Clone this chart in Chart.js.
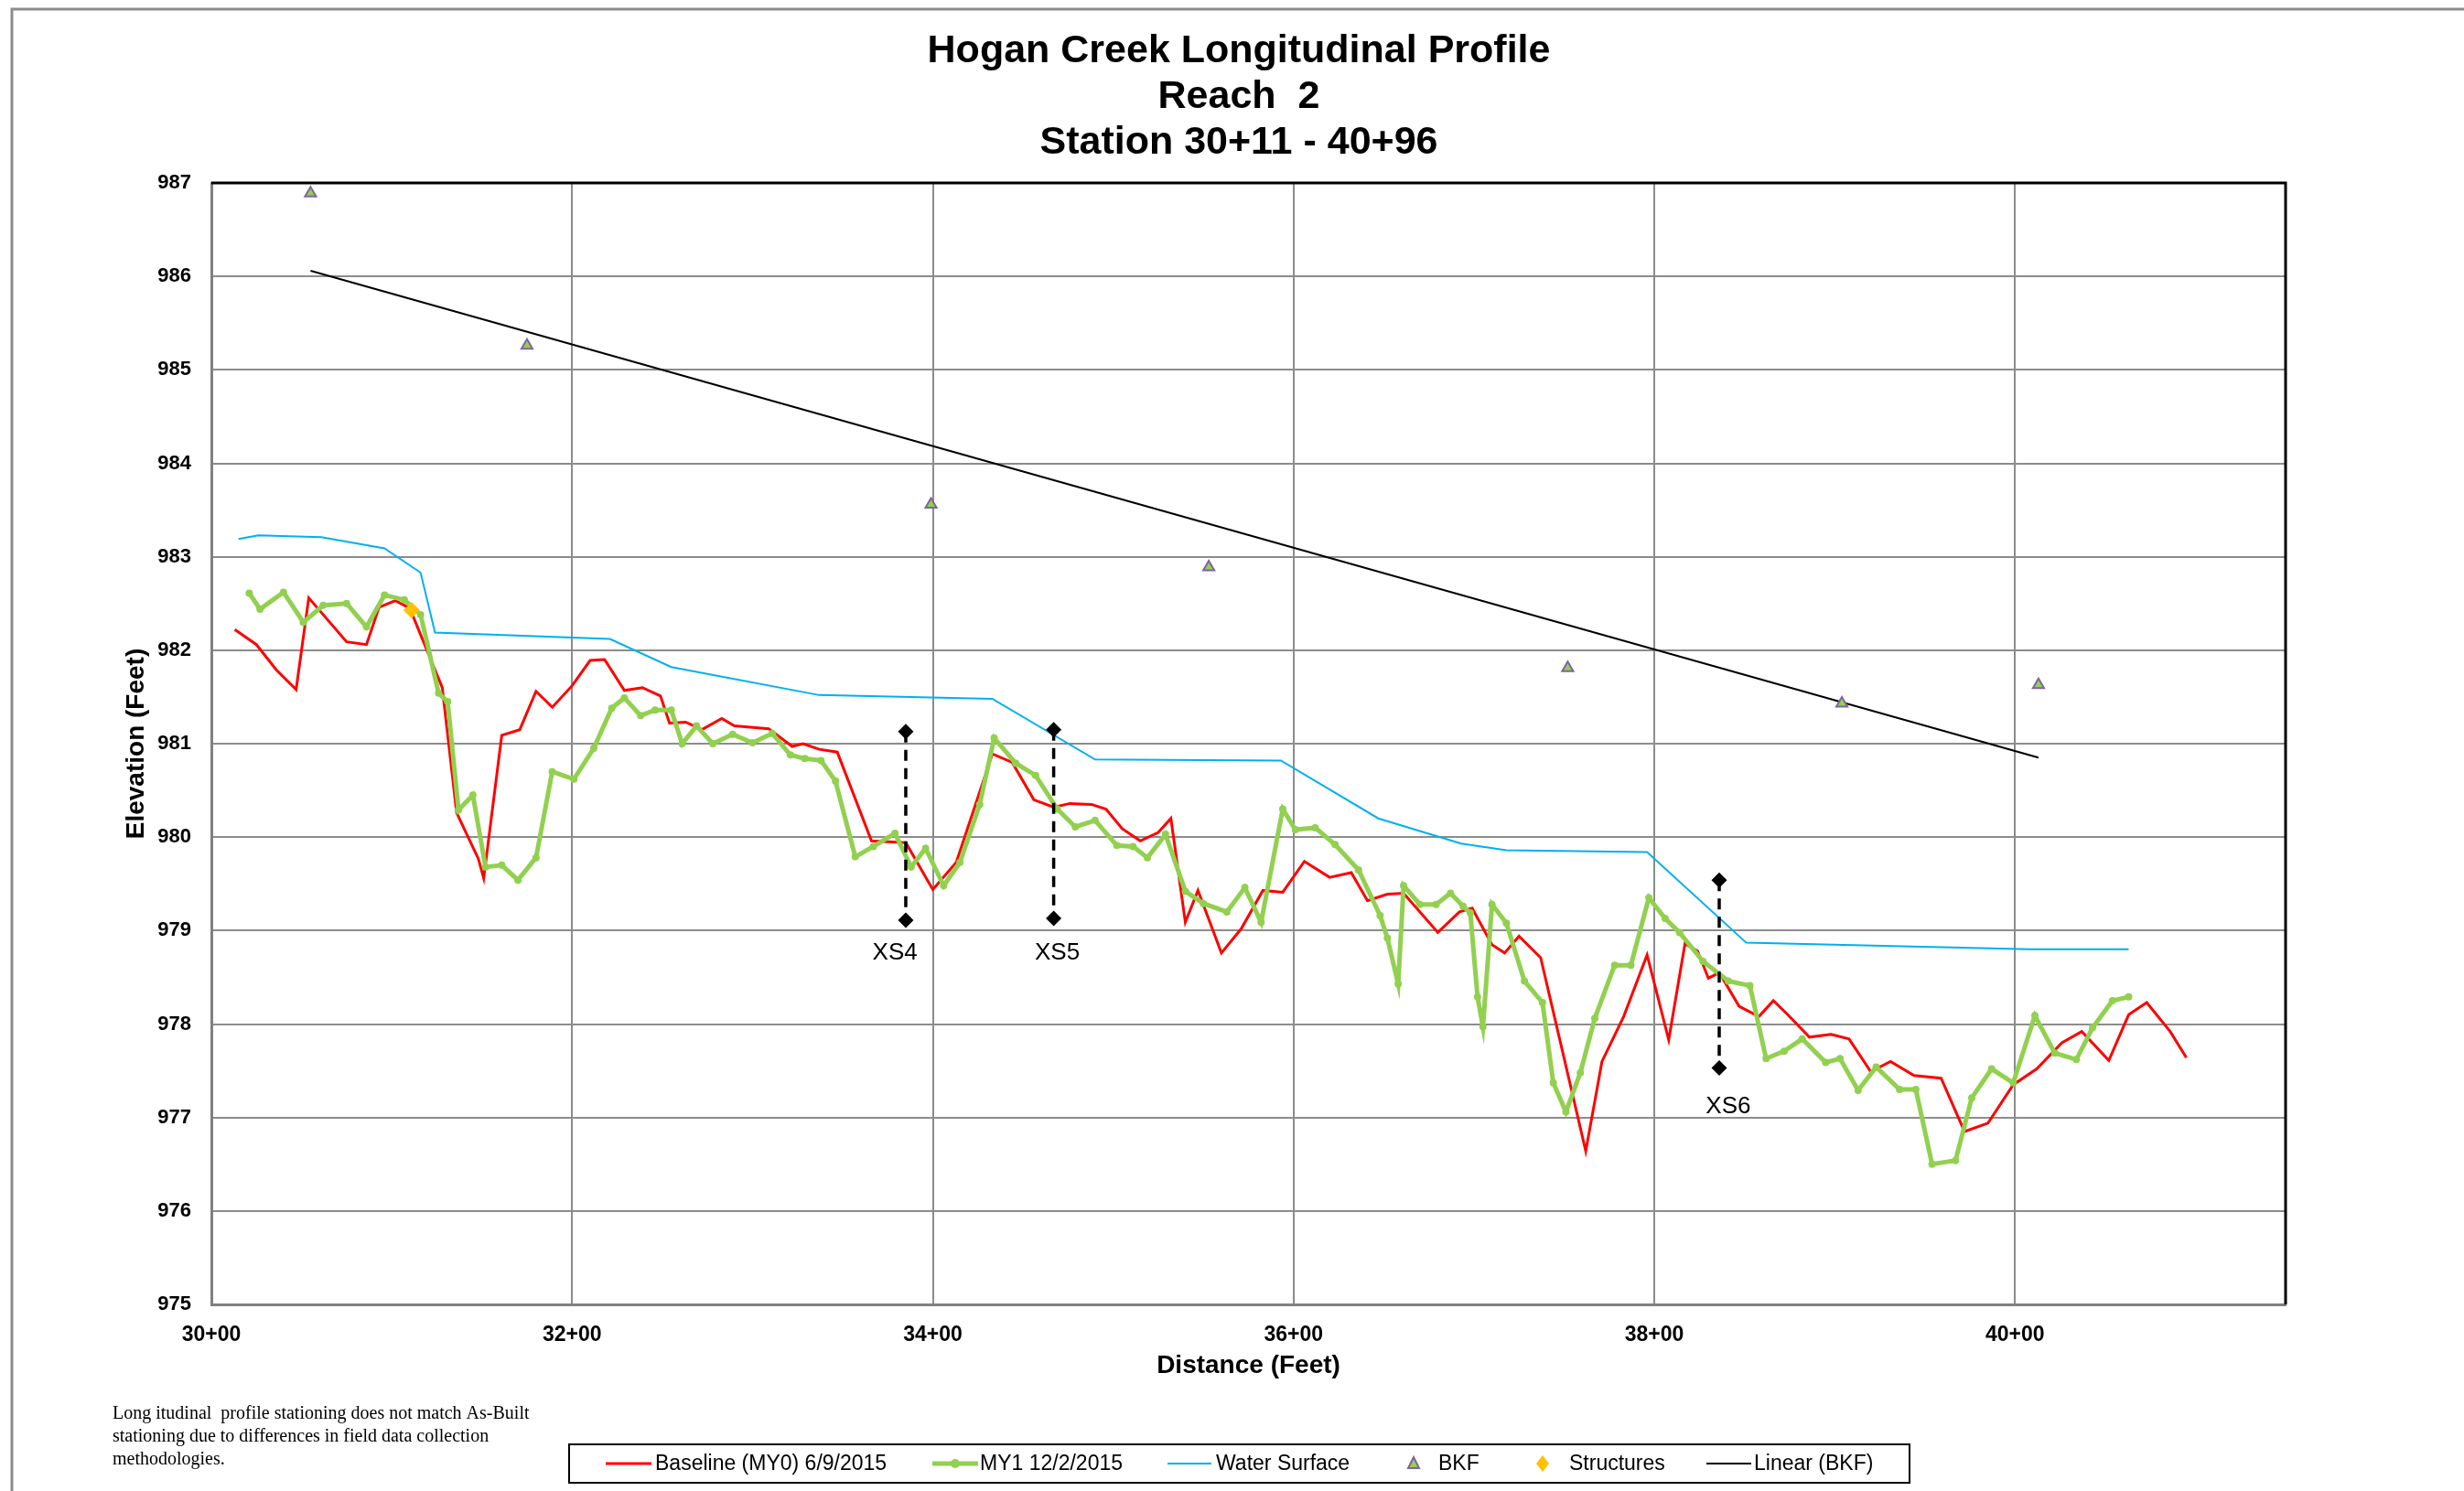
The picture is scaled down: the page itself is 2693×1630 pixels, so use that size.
<!DOCTYPE html>
<html>
<head>
<meta charset="utf-8">
<title>Hogan Creek Longitudinal Profile</title>
<script src="https://cdn.jsdelivr.net/npm/chart.js@4.4.1/dist/chart.umd.min.js"></script>
<style>
  html, body { margin: 0; padding: 0; background: #fff; }
</style>
</head>
<body>
<canvas id="hogan-reach2-profile" width="2693" height="1630"></canvas>
<script>
const id = 'hogan-reach2-profile';

const titleLines = ['Hogan Creek Longitudinal Profile', 'Reach  2', 'Station 30+11 - 40+96'];
const noteLines = [
  'Long itudinal  profile stationing does not match As-Built',
  'stationing due to differences in field data collection',
  'methodologies.'
];

const xTicks = [3000, 3200, 3400, 3600, 3800, 4000];
const yTicks = [975, 976, 977, 978, 979, 980, 981, 982, 983, 984, 985, 986, 987];

// Baseline (MY0) 6/9/2015
const baselineX = [3013, 3025, 3036, 3047, 3054, 3075, 3086, 3093, 3102, 3110, 3128, 3136, 3148, 3151, 3161,
  3171, 3180, 3189, 3200, 3210, 3218, 3229, 3239, 3249, 3254, 3263, 3272, 3283, 3290, 3309, 3322, 3328, 3337,
  3347, 3366, 3385, 3400, 3413, 3433, 3444, 3456, 3467, 3476, 3488, 3496, 3505, 3515, 3525, 3532, 3540, 3547,
  3560, 3571, 3583, 3594, 3606, 3620, 3632, 3641, 3652, 3661, 3680, 3692, 3699, 3710, 3717, 3725, 3737, 3762,
  3771, 3783, 3796, 3808, 3817, 3824, 3830, 3836, 3847, 3858, 3866, 3874, 3886, 3898, 3908, 3920, 3931, 3944,
  3959, 3972, 3985, 3999, 4012, 4026, 4037, 4052, 4063, 4073, 4086, 4095];
const baselineY = [982.22, 982.06, 981.79, 981.58, 982.56, 982.09, 982.06, 982.46, 982.53, 982.45, 981.60, 980.26,
  979.77, 979.56, 981.09, 981.15, 981.56, 981.39, 981.62, 981.89, 981.90, 981.57, 981.60, 981.51, 981.22, 981.23,
  981.15, 981.27, 981.19, 981.16, 980.97, 981.00, 980.94, 980.91, 979.96, 979.94, 979.44, 979.73, 980.89, 980.80,
  980.40, 980.32, 980.36, 980.35, 980.30, 980.09, 979.96, 980.05, 980.20, 979.09, 979.43, 978.76, 979.02, 979.43,
  979.41, 979.74, 979.57, 979.62, 979.32, 979.39, 979.40, 978.98, 979.20, 979.24, 978.85, 978.76, 978.94, 978.71,
  976.64, 977.60, 978.08, 978.74, 977.83, 978.86, 978.78, 978.49, 978.55, 978.19, 978.08, 978.25, 978.10, 977.86,
  977.89, 977.84, 977.49, 977.60, 977.45, 977.42, 976.85, 976.94, 977.35, 977.52, 977.80, 977.92, 977.61, 978.10,
  978.23, 977.92, 977.64];

// MY1 12/2/2015
const my1X = [3021, 3027, 3040, 3051, 3062, 3075, 3086, 3096, 3107, 3116, 3126, 3131, 3137, 3145, 3152, 3161, 3170,
  3180, 3189, 3201, 3212, 3222, 3229, 3238, 3246, 3255, 3261, 3269, 3278, 3289, 3300, 3311, 3321, 3329, 3338, 3346,
  3357, 3367, 3379, 3388, 3396, 3406, 3415, 3426, 3434, 3446, 3457, 3469, 3479, 3490, 3502, 3511, 3519, 3529, 3540,
  3550, 3563, 3573, 3582, 3594, 3601, 3612, 3623, 3636, 3648, 3652, 3658, 3661, 3670, 3679, 3687, 3694, 3698, 3702,
  3705, 3710, 3718, 3728, 3738, 3744, 3751, 3759, 3767, 3778, 3787, 3797, 3806, 3814, 3827, 3841, 3853, 3862, 3872,
  3882, 3895, 3903, 3913, 3923, 3936, 3945, 3954, 3967, 3976, 3987, 3999, 4011, 4022, 4034, 4043, 4054, 4063];
const my1Y = [982.61, 982.44, 982.62, 982.30, 982.48, 982.50, 982.25, 982.59, 982.54, 982.38, 981.54, 981.45, 980.29,
  980.45, 979.68, 979.70, 979.54, 979.78, 980.70, 980.62, 980.95, 981.38, 981.49, 981.30, 981.36, 981.36, 981.00,
  981.19, 981.00, 981.10, 981.01, 981.11, 980.88, 980.84, 980.82, 980.60, 979.79, 979.90, 980.04, 979.68, 979.88,
  979.48, 979.73, 980.35, 981.06, 980.79, 980.66, 980.30, 980.11, 980.18, 979.91, 979.90, 979.78, 980.03, 979.42,
  979.29, 979.20, 979.46, 979.09, 980.30, 980.08, 980.10, 979.92, 979.65, 979.16, 978.92, 978.43, 979.48, 979.28,
  979.28, 979.40, 979.26, 979.19, 978.29, 977.97, 979.28, 979.08, 978.46, 978.23, 977.37, 977.06, 977.48, 978.06,
  978.63, 978.63, 979.35, 979.13, 978.98, 978.67, 978.46, 978.41, 977.63, 977.71, 977.84, 977.59, 977.63, 977.29,
  977.54, 977.30, 977.30, 976.50, 976.54, 977.21, 977.52, 977.37, 978.09, 977.69, 977.62, 977.96, 978.25, 978.29];

// Water Surface
const waterX = [3015, 3026, 3061, 3096, 3116, 3124, 3221, 3255, 3337, 3433, 3490, 3593, 3647, 3693, 3718, 3796, 3851, 4008, 4063];
const waterY = [983.19, 983.23, 983.21, 983.09, 982.83, 982.19, 982.12, 981.82, 981.52, 981.48, 980.83, 980.82, 980.20,
  979.93, 979.86, 979.84, 978.87, 978.80, 978.80];

// BKF
const bkfX = [3055, 3175, 3399, 3553, 3752, 3904, 4013];
const bkfY = [986.89, 985.26, 983.56, 982.89, 981.81, 981.43, 981.63];

// Linear (BKF) trendline end points
const linearX = [3055, 4013];
const linearY = [986.06, 980.85];

// Structures
const structX = [3111];
const structY = [982.43];

// cross sections
const xsNames = ['XS4', 'XS5', 'XS6'];
const xsX = [3385, 3467, 3836];
const xsTop = [981.13, 981.15, 979.54];
const xsBottom = [979.11, 979.13, 977.53];
const xsLabelX = [3379, 3469, 3841];
const xsLabelY = [978.76, 978.76, 977.12];

const sans = '"Liberation Sans", Arial, Helvetica, sans-serif';
const serif = '"Liberation Serif", "Times New Roman", serif';

function pts(xs, ys) {
  return xs.map((x, i) => ({ x: x, y: ys[i] }));
}

function station(v) {
  return Math.floor(v / 100) + '+' + String(v % 100).padStart(2, '0');
}

const xsSets = xsNames.map((name, i) => ({
  label: name,
  data: [{ x: xsX[i], y: xsTop[i] }, { x: xsX[i], y: xsBottom[i] }],
  showLine: true,
  borderColor: '#000',
  borderWidth: 3.5,
  borderDash: [12, 8],
  pointStyle: 'rectRot',
  pointRadius: 6,
  pointBackgroundColor: '#000',
  pointBorderColor: '#000',
  order: -2
}));

const decor = {
  id: 'decor',
  beforeDraw(chart) {
    const ctx = chart.ctx;
    ctx.save();
    ctx.fillStyle = '#fff';
    ctx.fillRect(0, 0, chart.width, chart.height);
    // outer chart frame
    ctx.strokeStyle = '#8c8c8c';
    ctx.lineWidth = 3;
    ctx.beginPath();
    ctx.moveTo(13, chart.height);
    ctx.lineTo(13, 10);
    ctx.lineTo(chart.width, 10);
    ctx.stroke();
    ctx.restore();
  },
  afterDraw(chart) {
    const ctx = chart.ctx;
    const a = chart.chartArea;
    const xs = chart.scales.x;
    const ys = chart.scales.y;
    ctx.save();

    // plot frame top and right
    ctx.strokeStyle = '#000';
    ctx.lineWidth = 3;
    ctx.beginPath();
    ctx.moveTo(a.left, a.top);
    ctx.lineTo(a.right, a.top);
    ctx.lineTo(a.right, a.bottom);
    ctx.stroke();

    // title
    ctx.fillStyle = '#000';
    ctx.textAlign = 'center';
    ctx.textBaseline = 'alphabetic';
    ctx.font = 'bold 43px ' + sans;
    titleLines.forEach((t, i) => ctx.fillText(t, 1354, 68 + i * 50));

    // cross section labels
    ctx.font = '26px ' + sans;
    ctx.textBaseline = 'middle';
    xsNames.forEach((n, i) => {
      ctx.fillText(n, xs.getPixelForValue(xsLabelX[i]), ys.getPixelForValue(xsLabelY[i]));
    });

    // note
    ctx.textAlign = 'left';
    ctx.textBaseline = 'alphabetic';
    ctx.font = '20px ' + serif;
    noteLines.forEach((t, i) => ctx.fillText(t, 123, 1551 + i * 25));

    // legend
    const sets = chart.data.datasets;
    const box = { x: 622, y: 1579, w: 1465, h: 42 };
    const cy = box.y + box.h / 2;
    ctx.strokeStyle = '#000';
    ctx.lineWidth = 2;
    ctx.strokeRect(box.x, box.y, box.w, box.h);
    const items = [
      { ds: 1, kind: 'line', x0: 662, x1: 712, tx: 716 },
      { ds: 0, kind: 'linept', x0: 1019, x1: 1069, tx: 1071 },
      { ds: 2, kind: 'line', x0: 1276, x1: 1324, tx: 1329 },
      { ds: 3, kind: 'tri', x0: 1545, tx: 1572 },
      { ds: 4, kind: 'dia', x0: 1686, tx: 1715 },
      { ds: 5, kind: 'line', x0: 1865, x1: 1914, tx: 1917 }
    ];
    ctx.font = '23px ' + sans;
    ctx.textBaseline = 'middle';
    items.forEach(it => {
      const d = sets[it.ds];
      if (it.kind === 'line' || it.kind === 'linept') {
        ctx.strokeStyle = d.borderColor;
        ctx.lineWidth = d.borderWidth;
        ctx.beginPath();
        ctx.moveTo(it.x0, cy);
        ctx.lineTo(it.x1, cy);
        ctx.stroke();
        if (it.kind === 'linept') {
          ctx.fillStyle = d.pointBackgroundColor;
          ctx.beginPath();
          ctx.arc((it.x0 + it.x1) / 2, cy, 5, 0, Math.PI * 2);
          ctx.fill();
        }
      } else if (it.kind === 'tri') {
        ctx.fillStyle = d.backgroundColor;
        ctx.strokeStyle = d.borderColor;
        ctx.lineWidth = 2;
        ctx.beginPath();
        ctx.moveTo(it.x0, cy - 7);
        ctx.lineTo(it.x0 + 6, cy + 5);
        ctx.lineTo(it.x0 - 6, cy + 5);
        ctx.closePath();
        ctx.fill();
        ctx.stroke();
      } else {
        ctx.fillStyle = d.backgroundColor;
        ctx.beginPath();
        ctx.moveTo(it.x0, cy - 9);
        ctx.lineTo(it.x0 + 7, cy);
        ctx.lineTo(it.x0, cy + 9);
        ctx.lineTo(it.x0 - 7, cy);
        ctx.closePath();
        ctx.fill();
      }
      ctx.fillStyle = '#000';
      ctx.fillText(d.label, it.tx, cy + 1);
    });
    ctx.restore();
  }
};

function initChart(Chart) {
  new Chart(id, {
    type: 'scatter',
    data: {
      datasets: [{
        label: 'MY1 12/2/2015',
        data: pts(my1X, my1Y),
        showLine: true,
        borderColor: '#92D050',
        borderWidth: 5,
        pointRadius: 4,
        pointBackgroundColor: '#92D050',
        pointBorderWidth: 0,
        order: 0
      }, {
        label: 'Baseline (MY0) 6/9/2015',
        data: pts(baselineX, baselineY),
        showLine: true,
        borderColor: '#FF0000',
        borderWidth: 3,
        pointRadius: 0,
        order: 1
      }, {
        label: 'Water Surface',
        data: pts(waterX, waterY),
        showLine: true,
        borderColor: '#00B0F0',
        borderWidth: 2,
        pointRadius: 0,
        order: 2
      }, {
        label: 'BKF',
        data: pts(bkfX, bkfY),
        showLine: false,
        pointStyle: 'triangle',
        pointRadius: 7,
        backgroundColor: '#92D050',
        borderColor: '#8064A2',
        borderWidth: 2,
        order: 3
      }, {
        label: 'Structures',
        data: pts(structX, structY),
        showLine: false,
        pointStyle: 'rectRot',
        pointRadius: 9,
        backgroundColor: '#FFC000',
        borderColor: '#FFC000',
        borderWidth: 0,
        order: -1
      }, {
        label: 'Linear (BKF)',
        data: pts(linearX, linearY),
        showLine: true,
        borderColor: '#000',
        borderWidth: 2,
        pointRadius: 0,
        order: 4
      }].concat(xsSets)
    },
    options: {
      responsive: false,
      animation: false,
      layout: { padding: { left: 0, top: 200, right: 195, bottom: 0 } },
      plugins: {
        legend: { display: false },
        title: { display: false },
        tooltip: { enabled: false }
      },
      scales: {
        x: {
          type: 'linear',
          min: 3000,
          max: 4150,
          afterBuildTicks: s => { s.ticks = xTicks.map(v => ({ value: v })); },
          afterFit: s => { s.height = 204; },
          ticks: {
            callback: v => station(v),
            color: '#000',
            font: { family: sans, size: 23, weight: 'bold' },
            padding: 20,
            maxRotation: 0,
            autoSkip: false
          },
          grid: { color: '#8c8c8c', lineWidth: 2, drawTicks: false },
          border: { color: '#808080', width: 3 },
          title: {
            display: true,
            text: 'Distance (Feet)',
            color: '#000',
            font: { family: sans, size: 28, weight: 'bold' },
            padding: { top: 0, bottom: 120 }
          }
        },
        y: {
          type: 'linear',
          min: 975,
          max: 987,
          afterBuildTicks: s => { s.ticks = yTicks.map(v => ({ value: v })); },
          afterFit: s => { s.width = 231; },
          ticks: {
            color: '#000',
            font: { family: sans, size: 22, weight: 'bold' },
            padding: 22
          },
          grid: { color: '#8c8c8c', lineWidth: 2, drawTicks: false },
          border: { color: '#808080', width: 3 },
          title: {
            display: true,
            text: 'Elevation (Feet)',
            color: '#000',
            font: { family: sans, size: 28, weight: 'bold' },
            padding: { top: 132, bottom: 0 }
          }
        }
      }
    },
    plugins: [decor]
  });
}

initChart(Chart);
</script>
</body>
</html>
